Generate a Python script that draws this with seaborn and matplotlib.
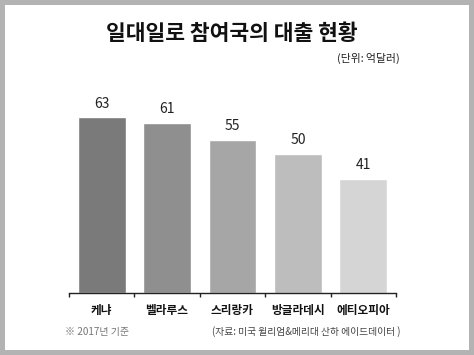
import matplotlib
matplotlib.use("Agg")
import matplotlib.pyplot as plt
import seaborn as sns
import pandas as pd

countries = ["케냐", "벨라루스", "스리랑카", "방글라데시", "에티오피아"]
loans = [63, 61, 55, 50, 41]
colors = ["#7a7a7a", "#8f8f8f", "#a6a6a6", "#bdbdbd", "#d5d5d5"]

sns.set_style("white")
plt.rcParams["font.family"] = ["Noto Sans CJK KR", "DejaVu Sans"]

df = pd.DataFrame({"country": countries, "loan": loans})

fig = plt.figure(figsize=(4.74, 3.55), dpi=100)
fig.patch.set_facecolor("white")
fig.patch.set_edgecolor("#b3b3b3")
fig.patch.set_linewidth(5.8)

ax = fig.add_axes([69 / 474, 62 / 355, 327 / 474, 195.3 / 355])
sns.barplot(data=df, x="country", y="loan", hue="country", palette=colors,
            width=0.73, legend=False, ax=ax, saturation=1)
ax.set_xlim(-0.5, 4.5)
ax.set_ylim(0, 70)
ax.set_xlabel("")
ax.set_ylabel("")
ax.set_yticks([])
for s in ["top", "right", "left"]:
    ax.spines[s].set_visible(False)
ax.spines["bottom"].set_color("#222222")
ax.spines["bottom"].set_linewidth(1.0)
ax.set_xticks([-0.5, 0.5, 1.5, 2.5, 3.5, 4.5], minor=True)
ax.tick_params(axis="x", which="minor", length=3, width=1, color="#222222", direction="out", bottom=True)
ax.tick_params(axis="x", which="major", length=0, pad=8, labelsize=8.4, labelcolor="#111111")
for lbl in ax.get_xticklabels():
    lbl.set_fontweight("semibold")

for i, v in enumerate(loans):
    ax.text(i, v + 2.4, str(v), ha="center", va="bottom", fontsize=10, color="#222222")

fig.text(0.49, 1 - 33 / 355, "일대일로 참여국의 대출 현황", ha="center", va="center",
         fontsize=15.5, fontweight="bold", color="#111111")
fig.text(400 / 474, 1 - 58 / 355, "(단위: 억달러)", ha="right", va="center",
         fontsize=7.8, color="#222222")
fig.text(65 / 474, 1 - 332 / 355, "※ 2017년 기준", ha="left", va="center",
         fontsize=7.2, color="#777777")
fig.text(401 / 474, 1 - 332 / 355, "(자료: 미국 윌리엄&메리대 산하 에이드데이터 )", ha="right", va="center",
         fontsize=7, color="#444444")

fig.savefig("out.png", dpi=100, facecolor=fig.get_facecolor(), edgecolor=fig.get_edgecolor())
